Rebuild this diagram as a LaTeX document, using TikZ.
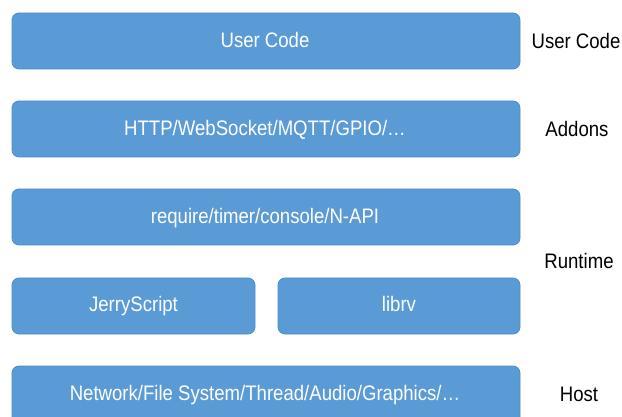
\documentclass[tikz,border=0pt]{standalone}
\usepackage{fontspec}
\setmainfont{Liberation Sans}
\definecolor{boxblue}{HTML}{5B9BD5}
\definecolor{boxedge}{HTML}{4F8CC6}
\newcommand{\cond}[1]{\scalebox{0.885}[1]{#1}}
\begin{document}
\begin{tikzpicture}[x=1pt,y=-1pt,
  layer/.style={fill=boxblue,draw=boxedge,line width=0.8pt,rounded corners=7pt},
  intext/.style={text=white,font=\fontsize{21}{24}\selectfont,anchor=base,inner sep=0pt},
  sidetext/.style={text=black,font=\fontsize{21}{24}\selectfont,anchor=base,inner sep=0pt}]
\useasboundingbox (0,0) rectangle (622,417);
\clip (0,0) rectangle (622,417);
\draw[layer] (12,13) rectangle (520,69);
\draw[layer] (12,101) rectangle (520,157);
\draw[layer] (12,189) rectangle (520,245);
\draw[layer] (12,278) rectangle (255,334);
\draw[layer] (278,278) rectangle (520,334);
\draw[layer] (12,366) rectangle (520,430);
\node[intext] (uc) at (265,47.5) {\cond{User Code}};
\node[intext] (ad) at (265,135.5) {\cond{HTTP/WebSocket/MQTT/GPIO/…}};
\node[intext] (rt) at (265,223.5) {\cond{require/timer/console/N-API}};
\node[intext] (js) at (133.5,312) {\cond{JerryScript}};
\node[intext] (lr) at (399,312) {\cond{librv}};
\node[intext] (nw) at (265,400.5) {\cond{Network/File System/Thread/Audio/Graphics/…}};
\node[sidetext] (luc) at (576,48.5) {\cond{User Code}};
\node[sidetext] (lad) at (577,136.5) {\cond{Addons}};
\node[sidetext] (lrt) at (579,269) {\cond{Runtime}};
\node[sidetext] (lho) at (579,401.5) {\cond{Host}};
\end{tikzpicture}
\end{document}
